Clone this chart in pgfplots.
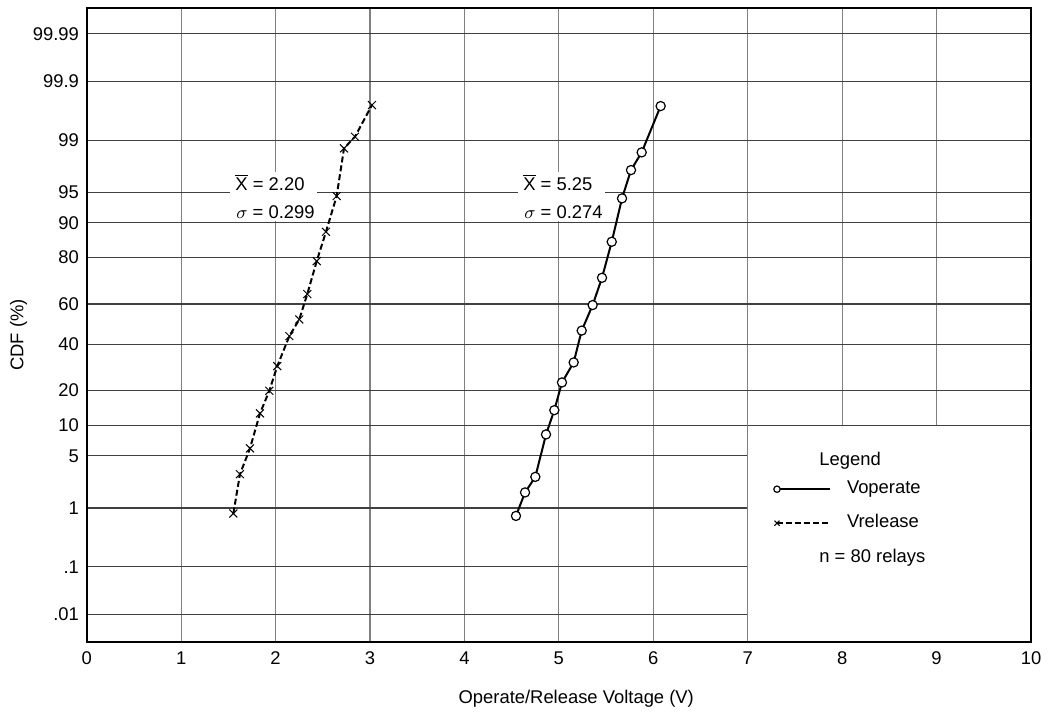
\documentclass[border=0pt]{standalone}
\usepackage{fontspec}
\setmainfont{Liberation Sans}
\usepackage{pgfplots}
\pgfplotsset{compat=1.18}
\newcommand{\lf}{\fontsize{9.2}{11}\selectfont}
\begin{document}
\begin{tikzpicture}
\begin{axis}[
  name=ax,
  scale only axis, width=472.15pt, height=316.9pt,
  xmin=0, xmax=10, ymin=-4.02, ymax=4.0,
  clip=false,
  xtick={0,1,...,10},
  ytick={-3.675,-3.072,-2.326,-1.667,-1.2816,-0.8416,-0.2533,0.2533,0.8416,1.2816,1.667,2.326,3.072,3.675},
  yticklabels={.01,.1,1,5,10,20,40,60,80,90,95,99,99.9,99.99},
  major tick length=0pt,
  xmajorgrids, ymajorgrids,
  x grid style={black!50, line width=0.6pt},
  y grid style={black!75, line width=0.6pt},
  axis line style={line width=1pt},
  /pgf/number format/assume math mode=true,
  every tick label/.append style={font=\lf},
  xticklabel style={anchor=base, yshift=-11.15pt, inner sep=0pt},
  yticklabel style={anchor=east, xshift=-3.7pt, inner sep=0pt},
  xlabel={Operate/Release Voltage (V)},
  xlabel style={at={(axis description cs:0.5,0)}, anchor=base, xshift=8.7pt, yshift=-30.8pt, inner sep=0pt, font=\lf},
  ylabel={CDF (\%)},
  ylabel style={at={(axis description cs:-0.0722,0.484)}, anchor=center, inner sep=0pt, font=\lf},
  legend image code/.code={
    \draw[#1, mark=none] (0pt,0pt) -- (26.5pt,0pt);
    \draw[#1] plot coordinates {(0pt,0pt)};
  },
  legend style={at={(axis cs:7.272,-2.304)}, anchor=west, draw=none, fill=none,
    inner sep=0pt, row sep=9pt, column sep=8pt,
    nodes={inner sep=0pt, text height=6pt, text depth=2pt, font=\lf},
    cells={anchor=west}},
]
% legend area
\fill[white] (axis cs:7,-1.2816) rectangle (axis cs:10,-4.02);
\draw[black!50, line width=0.6pt] (axis cs:7,-1.2816) -- (axis cs:7,-4.02);
\draw[black!75, line width=0.6pt] (axis cs:7,-1.2816) -- (axis cs:10,-1.2816);
% annotation backgrounds
\fill[white] (axis cs:1.5175,1.924) rectangle (axis cs:2.439,1.30);
\fill[white] (axis cs:4.567,1.924) rectangle (axis cs:5.489,1.30);
\node[anchor=base west, inner sep=0pt, font=\lf] at (axis cs:1.571,1.687) {$\overline{\mbox{X}}$ = 2.20};
\node[anchor=base west, inner sep=0pt, font=\lf] at (axis cs:1.581,1.338) {$\sigma$ = 0.299};
\node[anchor=base west, inner sep=0pt, font=\lf] at (axis cs:4.620,1.687) {$\overline{\mbox{X}}$ = 5.25};
\node[anchor=base west, inner sep=0pt, font=\lf] at (axis cs:4.631,1.338) {$\sigma$ = 0.274};
\node[anchor=base west, inner sep=0pt, font=\lf] at (axis cs:7.755,-1.785) {Legend};
\node[anchor=base west, inner sep=0pt, font=\lf] at (axis cs:7.755,-3.022) {n = 80 relays};

% Voperate (x in V, y as normal quantile of CDF)
\addplot[black, line width=1pt, mark=*, mark size=2.3pt,
  mark options={solid, fill=white, draw=black, line width=0.6pt},
  legend image post style={mark size=1.6pt}] table {
x y
4.546 -2.427
4.642 -2.130
4.751 -1.933
4.864 -1.396
4.952 -1.089
5.033 -0.738
5.157 -0.485
5.242 -0.082
5.358 0.241
5.457 0.586
5.560 1.042
5.669 1.591
5.764 1.949
5.877 2.173
6.078 2.759
};
\addlegendentry{Voperate}
% Vrelease
\addplot[black, line width=1pt, dash pattern=on 3pt off 1.5pt, mark=x, mark size=2.8pt,
  mark options={solid, line width=0.5pt},
  legend image post style={mark size=1.8pt}] table {
x y
1.553 -2.396
1.623 -1.899
1.729 -1.573
1.835 -1.130
1.934 -0.844
2.018 -0.532
2.146 -0.152
2.251 0.059
2.336 0.380
2.436 0.797
2.534 1.168
2.647 1.620
2.725 2.224
2.841 2.371
3.021 2.772
};
\addlegendentry{Vrelease}
\draw[line width=1pt] (rel axis cs:0,0) rectangle (rel axis cs:1,1);
\end{axis}
\pgfresetboundingbox
\path (ax.south west) ++(-43.35pt,-35.65pt) rectangle ([shift={(9pt,4pt)}]ax.north east);
\end{tikzpicture}
\end{document}
